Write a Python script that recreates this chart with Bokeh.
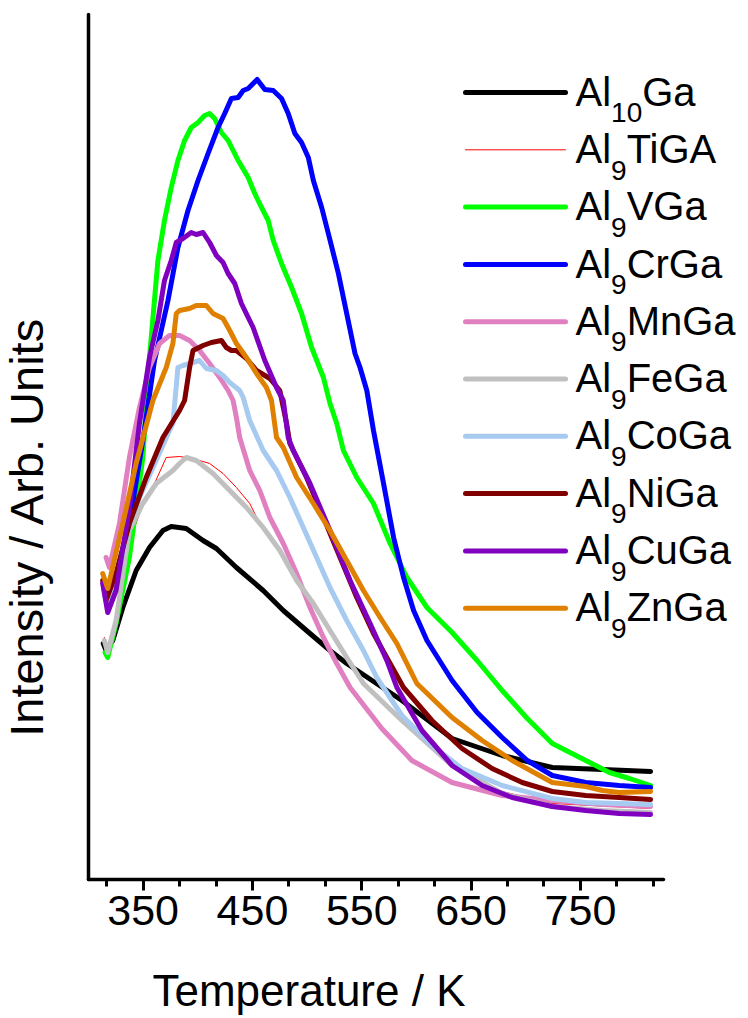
import math
from bokeh.plotting import figure
from bokeh.models import Range1d, FixedTicker, Label
from bokeh.embed import file_html
from bokeh.resources import INLINE

# ---------------- data (temperature in K, intensity in arb. units) ----------------
t_al10ga = [313.5, 316.1, 322.2, 331.4, 343.6, 355.8, 368.1, 375.7, 389.4, 404.8, 417.0, 435.3, 459.8,
            478.2, 502.6, 520.9, 536.2, 586.7, 632.6, 678.4, 724.3, 770.2, 814.2]
i_al10ga = [23.6, 22.9, 23.9, 27.2, 30.9, 33.2, 34.9, 35.3, 35.1, 33.9, 33.1, 31.2, 28.9,
            26.9, 24.6, 22.9, 21.6, 17.9, 14.1, 12.4, 11.2, 11.0, 10.8]

t_al9tiga = [314.5, 317.6, 325.2, 337.4, 349.7, 360.4, 371.1, 383.3, 395.6, 410.8, 423.1, 435.3, 447.5,
             456.7, 475.0, 490.4, 520.9, 551.5, 586.7, 632.6, 678.4, 724.3, 779.3, 814.2]
i_al9tiga = [24.2, 23.1, 26.4, 33.9, 37.4, 39.6, 42.2, 42.3, 42.1, 41.6, 40.6, 39.2, 37.6,
             35.6, 33.0, 30.0, 25.0, 19.7, 16.0, 11.6, 8.8, 7.6, 7.3, 7.1]

t_al9vga = [315.2, 317.6, 325.2, 337.4, 349.7, 355.8, 363.5, 369.5, 375.7, 381.8, 387.9, 394.0, 400.2,
            406.2, 410.8, 415.4, 421.6, 427.7, 436.9, 446.1, 452.1, 458.3, 464.4, 469.0, 476.6, 485.8,
            494.9, 504.1, 514.9, 520.9, 527.1, 533.2, 545.4, 560.7, 575.9, 591.3, 609.6, 632.6, 655.5,
            678.4, 701.4, 724.3, 754.9, 776.5, 794.9, 814.2]
i_al9vga = [22.7, 22.2, 25.6, 32.2, 42.2, 52.2, 61.9, 65.9, 69.2, 71.9, 73.9, 75.2, 75.7,
            76.4, 76.6, 76.1, 74.7, 73.9, 71.9, 70.2, 68.6, 67.2, 65.9, 63.9, 61.6, 59.2,
            56.6, 53.2, 50.2, 47.6, 45.6, 42.9, 40.2, 37.6, 33.6, 30.2, 27.2, 24.7, 21.9,
            18.9, 16.1, 13.6, 11.9, 10.7, 10.1, 9.4]

t_al9crga = [314.5, 319.1, 325.2, 337.4, 349.7, 360.4, 372.7, 381.8, 391.0, 400.2, 409.4, 418.5, 424.6,
             430.7, 436.9, 441.5, 446.1, 454.3, 461.3, 469.0, 476.6, 482.7, 488.8, 494.9, 501.1, 505.7,
             513.3, 519.4, 528.6, 536.2, 543.8, 548.4, 554.6, 560.7, 569.9, 579.1, 588.2, 597.4, 609.6,
             632.6, 655.5, 678.4, 701.4, 724.3, 754.9, 785.5, 814.2]
i_al9crga = [29.6, 28.2, 30.4, 35.6, 43.9, 51.9, 57.9, 63.2, 66.9, 69.9, 72.6, 75.2, 76.6,
             78.1, 78.2, 78.9, 79.1, 80.0, 79.0, 78.9, 78.1, 76.6, 74.6, 73.7, 72.2, 69.9,
             67.2, 64.6, 60.6, 56.6, 52.6, 51.2, 48.9, 44.9, 39.6, 34.2, 30.2, 26.9, 23.9,
             19.9, 16.7, 14.2, 11.9, 10.4, 9.7, 9.4, 9.2]

t_al9mnga = [316.1, 319.1, 328.3, 337.4, 346.6, 355.8, 365.0, 374.1, 383.3, 392.5, 401.6, 410.8, 420.0,
             427.7, 432.3, 435.3, 438.3, 447.5, 456.7, 465.9, 478.2, 490.4, 502.6, 514.9, 527.1, 539.3,
             568.3, 595.8, 632.6, 678.4, 724.3, 770.2, 814.2]
i_al9mnga = [32.2, 31.2, 35.6, 42.2, 47.2, 51.2, 53.6, 54.4, 54.4, 53.9, 52.9, 51.6, 50.2,
             48.9, 47.9, 46.2, 44.2, 40.9, 38.9, 36.2, 33.6, 30.6, 27.2, 24.2, 21.6, 19.2,
             15.1, 11.9, 9.7, 8.4, 7.9, 7.5, 7.3]

t_al9fega = [314.5, 317.6, 325.2, 337.4, 349.7, 361.9, 377.2, 383.3, 389.4, 398.6, 413.9, 429.2, 444.5,
             459.8, 475.0, 490.4, 505.7, 520.9, 536.2, 551.5, 586.7, 632.6, 678.4, 724.3, 770.2, 814.2]
i_al9fega = [23.9, 22.7, 25.9, 34.9, 37.6, 39.6, 40.9, 41.6, 42.2, 41.9, 40.6, 38.9, 37.2,
             35.2, 32.9, 29.9, 27.6, 24.9, 22.2, 19.6, 15.9, 11.4, 8.6, 7.3, 6.9, 6.7]

t_al9coga = [314.5, 319.1, 337.4, 346.6, 361.9, 374.1, 377.2, 381.8, 386.4, 395.6, 401.6, 407.8, 417.0,
             423.1, 429.2, 438.3, 441.5, 447.5, 459.8, 472.0, 484.2, 496.5, 508.7, 520.9, 536.2, 551.5,
             563.7, 586.7, 614.2, 641.7, 678.4, 724.3, 754.9, 814.2]
i_al9coga = [28.9, 27.4, 35.4, 38.2, 41.9, 44.9, 45.6, 51.2, 51.4, 51.7, 51.9, 51.1, 50.9,
             50.4, 49.7, 48.9, 48.2, 45.9, 42.9, 40.9, 38.2, 35.2, 32.2, 29.2, 25.9, 22.9,
             20.2, 16.4, 13.4, 11.1, 9.4, 8.1, 7.7, 7.5]

t_al9niga = [313.0, 316.1, 325.2, 337.4, 352.8, 368.1, 383.3, 387.9, 392.5, 395.6, 404.8, 412.4, 421.6,
             426.1, 430.7, 435.3, 444.5, 453.7, 465.9, 475.0, 481.2, 484.2, 499.5, 514.9, 530.1, 545.4,
             560.7, 575.9, 588.2, 614.2, 641.7, 669.2, 696.8, 724.3, 754.9, 785.5, 814.2]
i_al9niga = [29.9, 27.9, 30.6, 35.6, 40.2, 44.2, 46.9, 47.9, 51.2, 52.9, 53.4, 53.7, 53.9,
             53.2, 52.9, 52.9, 52.1, 50.9, 50.1, 48.9, 45.6, 43.6, 40.2, 36.2, 32.2, 28.2,
             24.6, 21.6, 19.2, 15.9, 13.1, 11.1, 9.7, 8.8, 8.4, 8.2, 8.0]

t_al9cuga = [313.0, 317.6, 325.2, 337.4, 346.6, 355.8, 363.5, 369.5, 375.7, 380.3, 386.4, 394.0, 398.6,
             404.8, 410.8, 417.0, 423.1, 427.7, 433.8, 439.9, 446.1, 450.6, 461.3, 472.0, 478.2, 482.7,
             487.3, 502.6, 520.9, 539.3, 557.6, 572.9, 582.1, 605.0, 632.6, 660.1, 687.6, 724.3, 754.9,
             785.5, 814.2]
i_al9cuga = [29.6, 26.7, 28.9, 37.2, 45.6, 52.2, 55.9, 59.9, 61.9, 63.7, 64.1, 64.7, 64.5,
             64.7, 63.7, 62.4, 61.7, 60.6, 59.6, 57.6, 56.2, 55.2, 51.9, 49.2, 47.9, 44.2,
             42.9, 39.6, 34.9, 29.9, 25.6, 21.9, 19.2, 14.9, 11.4, 9.4, 8.2, 7.3, 6.9,
             6.6, 6.5]

t_al9znga = [313.0, 317.6, 331.4, 343.6, 358.9, 371.1, 377.2, 380.3, 383.3, 392.5, 398.6, 407.8, 413.9,
             423.1, 429.2, 435.3, 444.5, 453.7, 462.8, 467.4, 472.0, 478.2, 490.4, 505.7, 520.9, 536.2,
             551.5, 566.8, 582.1, 600.4, 632.6, 660.1, 687.6, 724.3, 754.9, 770.2, 785.5, 814.2]
i_al9znga = [30.6, 29.1, 35.6, 41.6, 47.9, 51.2, 53.6, 56.6, 56.9, 57.1, 57.4, 57.4, 56.6,
             56.1, 54.9, 53.6, 52.2, 50.6, 49.2, 47.9, 44.2, 43.2, 40.2, 37.6, 34.9, 31.9,
             28.9, 26.2, 23.6, 19.6, 16.2, 13.9, 11.9, 9.7, 9.3, 8.9, 8.7, 8.8]

x_major_ticks = [350, 450, 550, 650, 750]
x_minor_ticks = [316.67, 383.33, 416.67, 483.33, 516.67, 583.33, 616.67,
                 683.33, 716.67, 783.33, 816.67]
x_axis_bounds = (300, 826)
y_axis_bounds = (0, 86.5)

# series: (base, subscript, rest, color, width, t, i)
series = [
    ("Al", "10", "Ga", "#000000", 5.0, t_al10ga, i_al10ga),
    ("Al", "9", "TiGA", "#FF0000", 1.0, t_al9tiga, i_al9tiga),
    ("Al", "9", "VGa", "#00FF00", 5.0, t_al9vga, i_al9vga),
    ("Al", "9", "CrGa", "#0000FF", 5.0, t_al9crga, i_al9crga),
    ("Al", "9", "MnGa", "#E080C0", 5.0, t_al9mnga, i_al9mnga),
    ("Al", "9", "FeGa", "#C0C0C0", 5.0, t_al9fega, i_al9fega),
    ("Al", "9", "CoGa", "#A6CAF0", 5.0, t_al9coga, i_al9coga),
    ("Al", "9", "NiGa", "#800000", 5.0, t_al9niga, i_al9niga),
    ("Al", "9", "CuGa", "#8000C0", 5.0, t_al9cuga, i_al9cuga),
    ("Al", "9", "ZnGa", "#E08000", 5.0, t_al9znga, i_al9znga),
]

# ---------------- layout: the frame fills the whole canvas, axes are pinned ----------------
W, H = 748, 1018
AX_L_PX, AX_B_PX = 88, 879          # where the axes sit on the canvas
PX_PER_K, PX_PER_U = 575 / 526, 10.0
X0 = x_axis_bounds[0] - AX_L_PX / PX_PER_K
X1 = X0 + W / PX_PER_K
Y0 = y_axis_bounds[0] - (H - AX_B_PX) / PX_PER_U
Y1 = Y0 + H / PX_PER_U
FONT = "Liberation Sans"
MID = 0.3465   # baseline lies this many ems below the middle of the text box

p = figure(width=W, height=H, min_border=0,
           x_range=Range1d(X0, X1), y_range=Range1d(Y0, Y1),
           output_backend="svg", toolbar_location=None)
p.grid.visible = False
p.outline_line_color = None
p.background_fill_color = "white"
p.border_fill_color = "white"


def px_to_x(px):
    return X0 + px / PX_PER_K


def py_to_y(py):
    return Y1 - py / PX_PER_U


def text_at(px, baseline_py, text, size, align="left", angle=0.0):
    """Place a text so that its baseline lies at the given canvas pixel position."""
    if angle:
        return Label(x=px_to_x(px - MID * size), y=py_to_y(baseline_py), text=text,
                     text_font=FONT, text_font_size=f"{size}px", text_color="black",
                     text_align=align, text_baseline="middle", angle=angle)
    return Label(x=px_to_x(px), y=py_to_y(baseline_py - MID * size), text=text,
                 text_font=FONT, text_font_size=f"{size}px", text_color="black",
                 text_align=align, text_baseline="middle")


xa = p.xaxis[0]
xa.fixed_location = y_axis_bounds[0]
xa.bounds = x_axis_bounds
xa.ticker = FixedTicker(ticks=x_major_ticks, minor_ticks=x_minor_ticks)
xa.axis_line_width = 3.5
xa.axis_line_cap = "round"
xa.major_tick_in = 0
xa.major_tick_out = 11
xa.minor_tick_in = 0
xa.minor_tick_out = 7
xa.major_tick_line_width = 3
xa.minor_tick_line_width = 3
xa.major_label_text_font = FONT
xa.major_label_text_font_size = "43px"
xa.major_label_text_color = "black"
xa.major_label_standoff = 5

ya = p.yaxis[0]
ya.fixed_location = x_axis_bounds[0]
ya.bounds = y_axis_bounds
ya.ticker = FixedTicker(ticks=[])
ya.axis_line_width = 3.5
ya.axis_line_cap = "round"
ya.major_tick_out = 0
ya.minor_tick_out = 0
ya.major_tick_in = 0
ya.minor_tick_in = 0

for base, sub, rest, color, width, t, i in series:
    p.line(t, i, line_color=color, line_width=width, line_join="round", line_cap="round")

# ---------------- legend (drawn by hand to allow subscripts) ----------------
ROW0, ROW_STEP = 92, 57.3
SW_L, SW_R = 465, 565
TXT_X = 575
BIG, SMALL = 40, 28
for k, (base, sub, rest, color, width, t, i) in enumerate(series):
    ly = ROW0 + ROW_STEP * k
    p.line([px_to_x(SW_L), px_to_x(SW_R)], [py_to_y(ly), py_to_y(ly)],
           line_color=color, line_width=width, line_cap="round")
    xb = TXT_X
    p.add_layout(text_at(xb, ly + 13, base, BIG))
    xs = xb + 0.889 * BIG
    p.add_layout(text_at(xs, ly + 30, sub, SMALL))
    xr = xs + 0.556 * SMALL * len(sub)
    p.add_layout(text_at(xr, ly + 13, rest, BIG))

# ---------------- axis titles ----------------
p.add_layout(text_at(308.5, 1005, "Temperature / K", 44, align="center"))
p.add_layout(text_at(42.7, 526, "Intensity / Arb. Units", 47, align="center", angle=math.pi / 2))

open("out.html", "w").write(file_html(p, INLINE))
